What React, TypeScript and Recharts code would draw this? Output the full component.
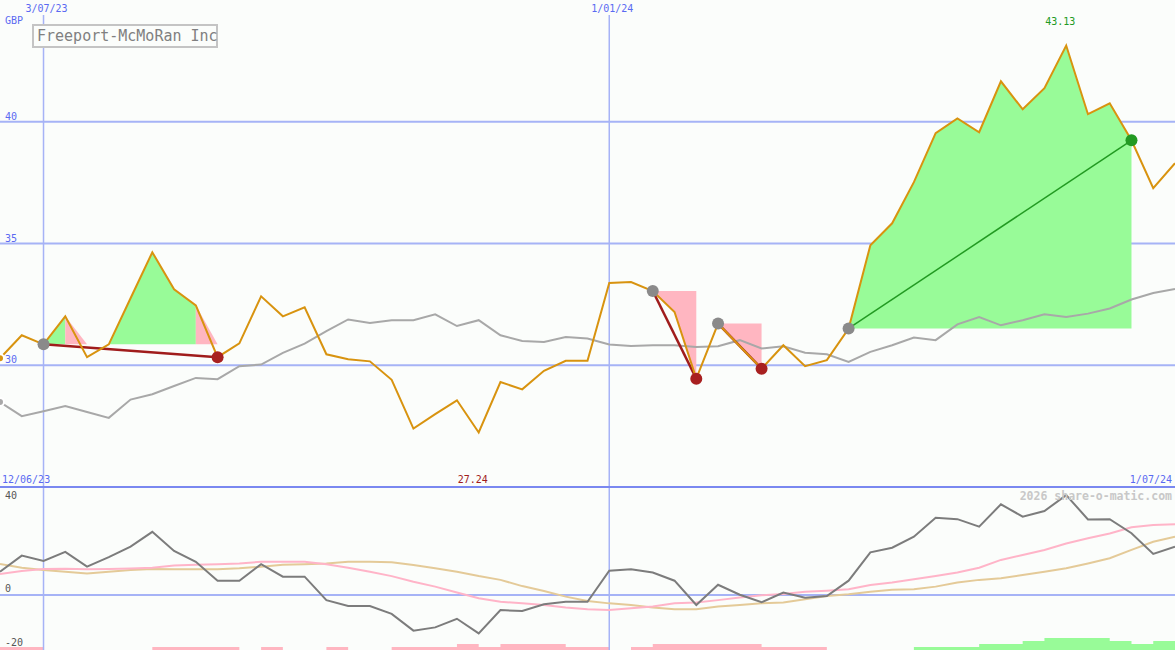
import { Area, CartesianGrid, ComposedChart, Line, ReferenceDot, ReferenceLine, XAxis, YAxis } from "recharts";

// weekly closes, 19/06/23 .. 1/07/24
const price = [
  30.29, 31.23, 30.86, 32.01, 30.33, 30.86, 32.75, 34.64, 33.12, 32.46,
  30.33, 30.9, 32.83, 32.01, 32.38, 30.45, 30.25, 30.16, 29.4, 27.4,
  27.99, 28.56, 27.24, 29.31, 29.01, 29.77, 30.18, 30.18, 33.38, 33.42,
  33.05, 32.19, 29.45, 31.71, 30.78, 29.86, 30.82, 29.96, 30.21, 31.51,
  34.93, 35.83, 37.52, 39.53, 40.14, 39.57, 41.66, 40.51, 41.38, 43.13,
  40.31, 40.76, 39.24, 37.27, 38.3,
];

const average = [
  28.49, 27.91, 28.11, 28.33, 28.08, 27.84, 28.59, 28.81, 29.15, 29.48,
  29.43, 29.96, 30.03, 30.51, 30.89, 31.4, 31.88, 31.74, 31.85, 31.85,
  32.09, 31.61, 31.85, 31.23, 31.0, 30.96, 31.16, 31.1, 30.85, 30.79,
  30.82, 30.82, 30.75, 30.78, 31.03, 30.69, 30.78, 30.51, 30.45, 30.14,
  30.55, 30.82, 31.14, 31.03, 31.68, 31.98, 31.64, 31.85, 32.09, 31.98,
  32.12, 32.33, 32.7, 32.97, 33.13,
];

const momentum = [
  8.6, 14.6, 12.6, 16.0, 10.5, 14.0, 17.9, 23.4, 16.3, 12.3,
  5.3, 5.3, 11.4, 6.8, 6.8, -1.9, -4.1, -4.1, -7.0, -13.2,
  -12.0, -8.8, -14.2, -5.6, -5.9, -3.4, -2.5, -2.5, 9.0, 9.5,
  8.3, 5.3, -3.7, 3.8, 0.1, -2.7, 0.9, -1.0, -0.4, 5.3,
  15.8, 17.5, 21.6, 28.6, 28.1, 25.3, 33.6, 29.0, 31.1, 37.0,
  28.0, 28.1, 22.9, 15.2, 17.9,
];

const fastSignal = [
  7.8, 8.9, 9.6, 9.7, 9.5, 9.6, 9.8, 10.1, 10.9, 11.2,
  11.4, 11.7, 12.3, 12.3, 12.3, 11.4, 10.1, 8.6, 7.0, 4.9,
  3.1, 0.9, -1.2, -2.5, -3.1, -3.7, -4.6, -5.3, -5.6, -4.9,
  -4.3, -3.1, -2.8, -1.9, -0.9, -0.1, 0.4, 1.2, 1.6, 2.1,
  3.7, 4.6, 5.8, 7.0, 8.3, 10.1, 13.0, 14.8, 16.7, 19.1,
  21.0, 22.8, 25.1, 25.9, 26.2,
];

const slowSignal = [
  11.5, 10.1, 9.3, 8.6, 8.0, 8.6, 9.3, 9.6, 9.5, 9.5,
  9.5, 9.9, 10.5, 11.2, 11.4, 11.7, 12.3, 12.3, 12.1, 11.1,
  9.9, 8.6, 7.0, 5.6, 3.3, 1.5, -0.6, -2.2, -3.1, -3.7,
  -4.6, -5.3, -5.3, -4.3, -3.7, -3.1, -2.8, -1.6, -0.4, 0.3,
  1.2, 1.9, 2.1, 3.1, 4.6, 5.6, 6.2, 7.4, 8.6, 9.9,
  11.7, 13.6, 16.7, 19.7, 21.6,
];

// weekly strength steps (negative = pink, positive = green)
const strength = [
  -1, -1, 0, 0, 0, 0, 0, -1, -1, -1,
  -1, 0, -1, 0, 0, -1, 0, 0, -1, -1,
  -1, -2, -1, -2, -2, -2, -1, -1, 0, -1,
  -2, -2, -2, -2, -2, -1, -1, -1, 0, 0,
  0, 0, 1, 1, 1, 2, 2, 3, 4, 4,
  4, 3, 2, 3, 3,
];

const trades = [
  { entry: 2, exit: 10, win: false, side: "up" },
  { entry: 30, exit: 32, win: false, side: "down" },
  { entry: 33, exit: 35, win: false, side: "down" },
  { entry: 39, exit: 52, win: true, side: "up" },
];

const fills = [
  { trade: 0, from: 2, to: 3, gain: true },
  { trade: 0, from: 3, to: 4, gain: false },
  { trade: 0, from: 5, to: 9, gain: true },
  { trade: 0, from: 9, to: 10, gain: false },
  { trade: 1, from: 30, to: 32, gain: false },
  { trade: 2, from: 33, to: 35, gain: false },
  { trade: 3, from: 39, to: 52, gain: true },
];

const priceTicks = [30, 35, 40];
const lowerTicks = [40, 0, -20];
const dateTicks = [2, 28];
const dateLabels: Record<number, string> = { 2: "3/07/23", 28: "1/01/24" };
const edgeTicks = [0, 54];
const edgeLabels: Record<number, string> = { 0: "12/06/23", 54: "1/07/24" };

const BG = "#fbfdfb";
const BLUE = "#5a6af2";
const GRID = "#a6b3f6";
const DIVIDER = "#7a88f0";
const MONO = "'DejaVu Sans Mono', monospace";
const GAIN = "#98fb98";
const LOSS = "#ffb6c1";

const rows = price.map((p, i) => {
  const row: Record<string, any> = {
    i,
    price: p,
    average: average[i],
    momentum: momentum[i],
    fast: fastSignal[i],
    slow: slowSignal[i],
    weak: Math.max(0, -strength[i]),
    strong: Math.max(0, strength[i]),
    mark: null,
    role: null,
  };
  trades.forEach((t, k) => {
    row[`trade${k}`] = i === t.entry || i === t.exit ? p : null;
    if (i === t.entry) {
      row.mark = p;
      row.role = "entry";
    }
    if (i === t.exit) {
      row.mark = p;
      row.role = t.win ? "win" : "loss";
    }
  });
  fills.forEach((f, k) => {
    const t = trades[f.trade];
    const base = price[t.entry];
    row[`fill${k}`] =
      i >= f.from && i <= f.to
        ? t.side === "up"
          ? [base, Math.max(base, p)]
          : [Math.min(base, p), base]
        : null;
  });
  return row;
});

const maxIdx = price.indexOf(Math.max(...price));
const minIdx = price.indexOf(Math.min(...price));

const markColors: Record<string, string> = { entry: "#8a8a8a", loss: "#a82020", win: "#229a22" };

const renderMark = (props: any) => {
  const { cx, cy, payload, index } = props;
  if (cx == null || cy == null || payload?.mark == null) return <g key={`m${index}`} />;
  return <circle key={`m${index}`} cx={cx} cy={cy} r={6} fill={markColors[payload.role]} />;
};

const DateTick = (props: any) => {
  const { x, payload } = props;
  return (
    <g>
      <rect x={x - 22} y={0} width={46} height={15} fill={BG} />
      <text x={x + 3} y={12} textAnchor="middle" fontSize={10} fontFamily={MONO} fill={BLUE}>
        {dateLabels[payload.value]}
      </text>
    </g>
  );
};

const PriceTick = (props: any) => (
  <text x={5} y={props.y - 2} fontSize={10} fontFamily={MONO} fill={BLUE}>
    {props.payload.value}
  </text>
);

const LowerTick = (props: any) => {
  const v = props.payload.value;
  return (
    <text x={5} y={v === 40 ? props.y + 12 : props.y - 3} fontSize={10} fontFamily={MONO} fill="#555">
      {v}
    </text>
  );
};

const EdgeTick = (props: any) => {
  const v = props.payload.value;
  const first = v === 0;
  return (
    <text
      x={first ? 2 : props.x - 3}
      y={13}
      textAnchor={first ? "start" : "end"}
      fontSize={10}
      fontFamily={MONO}
      fill={BLUE}
    >
      {edgeLabels[v]}
    </text>
  );
};

const extremeLabel = (text: string, color: string, dy: number) => (props: any) => {
  const vb = props.viewBox || {};
  return (
    <text x={vb.x - 6} y={vb.y + dy} textAnchor="middle" fontSize={10} fontFamily={MONO} fill={color}>
      {text}
    </text>
  );
};

export default function App() {
  return (
    <div
      style={{
        position: "absolute",
        left: 0,
        top: 0,
        width: 1175,
        height: 650,
        background: BG,
        overflow: "hidden",
        fontFamily: MONO,
      }}
    >
      <div style={{ position: "absolute", left: 0, top: 0 }}>
        <ComposedChart width={1175} height={487} data={rows} margin={{ top: 0, right: 0, bottom: 0, left: 0 }}>
          <CartesianGrid vertical={false} syncWithTicks stroke={GRID} strokeWidth={2} />
          <CartesianGrid horizontal={false} syncWithTicks stroke={GRID} strokeWidth={1.5} />
          <XAxis
            dataKey="i"
            type="number"
            domain={[0, 54]}
            ticks={dateTicks}
            interval={0}
            orientation="top"
            mirror
            axisLine={false}
            tickLine={false}
            tick={DateTick}
          />
          <YAxis
            type="number"
            domain={[25, 45]}
            ticks={priceTicks}
            interval={0}
            mirror
            width={30}
            axisLine={false}
            tickLine={false}
            tick={PriceTick}
          />
          {fills.map((f, k) => (
            <Area
              key={`fill${k}`}
              dataKey={`fill${k}`}
              type="linear"
              stroke="none"
              fill={f.gain ? GAIN : LOSS}
              fillOpacity={1}
              isAnimationActive={false}
            />
          ))}
          <Line dataKey="average" type="linear" stroke="#a8a8a8" strokeWidth={2} dot={false} isAnimationActive={false} />
          {trades.map((t, k) => (
            <Line
              key={`trade${k}`}
              dataKey={`trade${k}`}
              type="linear"
              connectNulls
              stroke={t.win ? "#229a22" : "#a01c1c"}
              strokeWidth={t.win ? 1.5 : 2.5}
              dot={false}
              isAnimationActive={false}
            />
          ))}
          <Line dataKey="mark" stroke="none" dot={renderMark} isAnimationActive={false} />
          <Line dataKey="price" type="linear" stroke="#d8930f" strokeWidth={2} dot={false} isAnimationActive={false} />
          <ReferenceDot
            x={maxIdx}
            y={45}
            r={0}
            ifOverflow="visible"
            fill="none"
            stroke="none"
            label={extremeLabel(price[maxIdx].toFixed(2), "#229a22", 25)}
          />
          <ReferenceDot
            x={minIdx}
            y={25}
            r={0}
            ifOverflow="visible"
            fill="none"
            stroke="none"
            label={extremeLabel(price[minIdx].toFixed(2), "#a01c1c", -4)}
          />
        </ComposedChart>
      </div>

      <div style={{ position: "absolute", left: 0, top: 470 }}>
        <ComposedChart width={1175} height={180} data={rows} margin={{ top: 17, right: 0, bottom: 0, left: 0 }}>
          <XAxis
            dataKey="i"
            type="number"
            domain={[0, 54]}
            ticks={edgeTicks}
            interval={0}
            orientation="top"
            mirror
            axisLine={false}
            tickLine={false}
            tick={EdgeTick}
          />
          <YAxis
            type="number"
            domain={[-20.37, 40]}
            ticks={lowerTicks}
            interval={0}
            mirror
            width={30}
            axisLine={false}
            tickLine={false}
            tick={LowerTick}
          />
          <YAxis yAxisId="h" type="number" domain={[0, 54.3]} hide />
          <ReferenceLine y={0} stroke={GRID} strokeWidth={2} ifOverflow="visible" />
          <ReferenceLine x={2} stroke={GRID} strokeWidth={1.5} ifOverflow="visible" />
          <ReferenceLine x={28} stroke={GRID} strokeWidth={1.5} ifOverflow="visible" />
          <ReferenceLine y={40} stroke={DIVIDER} strokeWidth={2} ifOverflow="visible" />
          <Area
            yAxisId="h"
            dataKey="weak"
            type="stepAfter"
            stroke="none"
            fill={LOSS}
            fillOpacity={1}
            isAnimationActive={false}
          />
          <Area
            yAxisId="h"
            dataKey="strong"
            type="stepAfter"
            stroke="none"
            fill={GAIN}
            fillOpacity={1}
            isAnimationActive={false}
          />
          <Line dataKey="slow" type="linear" stroke="#e4ca98" strokeWidth={2} dot={false} isAnimationActive={false} />
          <Line dataKey="fast" type="linear" stroke="#ffb4c8" strokeWidth={2} dot={false} isAnimationActive={false} />
          <Line dataKey="momentum" type="linear" stroke="#7c7c7c" strokeWidth={2} dot={false} isAnimationActive={false} />
        </ComposedChart>
      </div>

      <div
        style={{
          position: "absolute",
          left: 5,
          top: 15,
          fontSize: 10,
          lineHeight: "12px",
          color: BLUE,
        }}
      >
        GBP
      </div>
      <div
        style={{
          position: "absolute",
          left: 32,
          top: 24,
          width: 179,
          height: 20,
          paddingLeft: 3,
          border: "2px solid #c4c4c4",
          background: BG,
          color: "#808080",
          fontSize: 15,
          lineHeight: "20px",
          whiteSpace: "nowrap",
        }}
      >
        Freeport-McMoRan Inc
      </div>
      <div
        style={{
          position: "absolute",
          right: 3,
          top: 489,
          fontSize: 11.5,
          lineHeight: "14px",
          fontWeight: "bold",
          color: "#c8c8c8",
          whiteSpace: "nowrap",
        }}
      >
        2026 share-o-matic.com
      </div>
    </div>
  );
}
